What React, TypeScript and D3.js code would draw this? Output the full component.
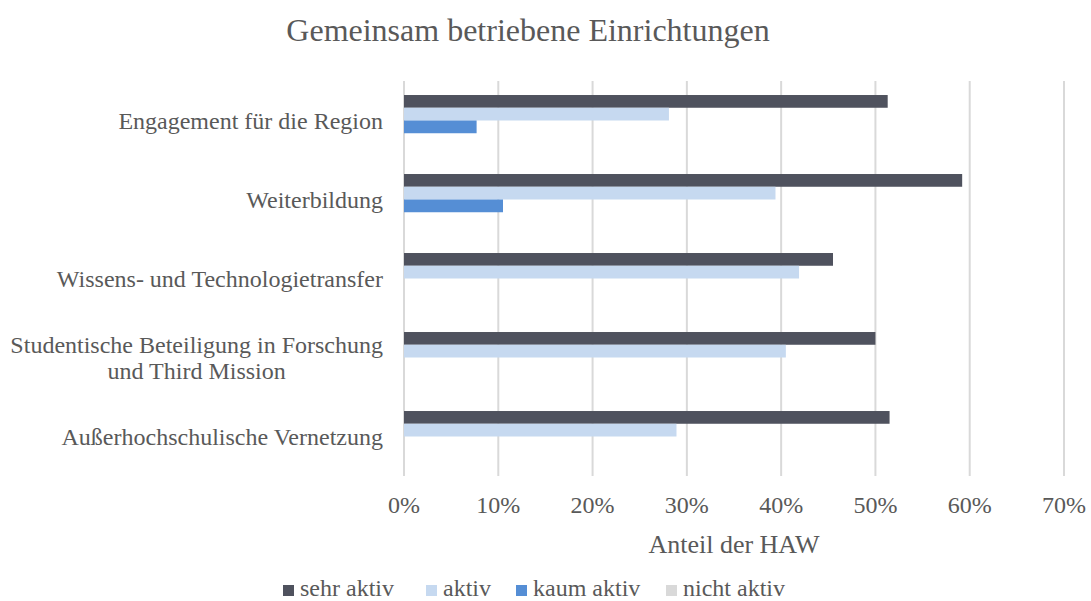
import { useEffect, useRef } from 'react';
import * as d3 from 'd3';

const categories = [
  'Engagement für die Region',
  'Weiterbildung',
  'Wissens- und Technologietransfer',
  'Studentische Beteiligung in Forschung|und Third Mission',
  'Außerhochschulische Vernetzung',
];
const seriesNames = ['sehr aktiv', 'aktiv', 'kaum aktiv', 'nicht aktiv'];
const sehrAktiv = [51.3, 59.2, 45.5, 50.0, 51.5];
const aktiv = [28.1, 39.4, 41.9, 40.5, 28.9];
const kaumAktiv = [7.7, 10.5, 0, 0, 0];
const nichtAktiv = [0, 0, 0, 0, 0];
const xTicks = [0, 10, 20, 30, 40, 50, 60, 70];

const COLORS = ['#4F525E', '#C6D9F0', '#558ED5', '#D9D9D9'];
const TEXT = '#595959';
const FONT = 'Liberation Serif, DejaVu Serif, serif';

const W = 1091;
const H = 601;
const plot = { left: 404, right: 1064, top: 81, bottom: 476 };

export default function App() {
  const ref = useRef<SVGSVGElement>(null);

  useEffect(() => {
    const root = d3.select(ref.current);
    root.selectAll('*').remove();
    const svg = root.append('g').attr('font-family', FONT);
    const values = [sehrAktiv, aktiv, kaumAktiv, nichtAktiv];

    const x = d3.scaleLinear().domain([0, 70]).range([plot.left, plot.right]);
    const y = d3.scaleBand<string>().domain(categories).range([plot.top, plot.bottom]).padding(0);
    const inner = d3
      .scaleBand<string>()
      .domain(seriesNames)
      .range([0, y.bandwidth()])
      .paddingInner(0)
      .paddingOuter(1.1);

    // title
    svg
      .append('text')
      .attr('x', 528)
      .attr('y', 41)
      .attr('text-anchor', 'middle')
      .attr('font-size', 32)
      .attr('fill', TEXT)
      .text('Gemeinsam betriebene Einrichtungen');

    // gridlines
    svg
      .append('g')
      .selectAll('line')
      .data(xTicks)
      .enter()
      .append('line')
      .attr('x1', (d) => x(d))
      .attr('x2', (d) => x(d))
      .attr('y1', plot.top)
      .attr('y2', plot.bottom)
      .attr('stroke', '#D9D9D9')
      .attr('stroke-width', 2);

    // bars
    seriesNames.forEach((s, si) => {
      svg
        .append('g')
        .selectAll('rect')
        .data(values[si])
        .enter()
        .append('rect')
        .attr('x', x(0))
        .attr('y', (_d, i) => (y(categories[i]) ?? 0) + (inner(s) ?? 0))
        .attr('width', (d) => x(d) - x(0))
        .attr('height', inner.bandwidth())
        .attr('fill', COLORS[si]);
    });

    // category labels (wrapped label: second line centred under the first)
    categories.forEach((c) => {
      const lines = c.split('|');
      const cy = (y(c) ?? 0) + y.bandwidth() / 2;
      const lh = 26;
      const t = svg
        .append('text')
        .attr('font-size', 24)
        .attr('fill', TEXT)
        .attr('text-anchor', 'end');
      if (lines.length === 1) {
        t.attr('x', 383).attr('y', cy + 8).text(c);
      } else {
        const first = t.attr('x', 383).attr('y', cy + 8 - lh / 2).text(lines[0]);
        const w = (first.node() as SVGTextElement).getComputedTextLength();
        svg
          .append('text')
          .attr('font-size', 24)
          .attr('fill', TEXT)
          .attr('text-anchor', 'middle')
          .attr('x', 383 - w / 2)
          .attr('y', cy + 8 + lh / 2)
          .text(lines[1]);
      }
    });

    // x tick labels
    svg
      .append('g')
      .selectAll('text')
      .data(xTicks)
      .enter()
      .append('text')
      .attr('x', (d) => x(d))
      .attr('y', 513)
      .attr('text-anchor', 'middle')
      .attr('font-size', 24)
      .attr('fill', TEXT)
      .text((d) => `${d}%`);

    // axis title
    svg
      .append('text')
      .attr('x', (plot.left + plot.right) / 2)
      .attr('y', 553)
      .attr('text-anchor', 'middle')
      .attr('font-size', 26)
      .attr('fill', TEXT)
      .text('Anteil der HAW');

    // legend
    const legendX = [283, 426, 516, 666];
    seriesNames.forEach((s, i) => {
      const g = svg.append('g').attr('transform', `translate(${legendX[i]},0)`);
      g.append('rect').attr('x', 0).attr('y', 585).attr('width', 11).attr('height', 11).attr('fill', COLORS[i]);
      g.append('text')
        .attr('x', 17)
        .attr('y', 596)
        .attr('font-size', 24)
        .attr('fill', TEXT)
        .text(s);
    });
  }, []);

  return (
    <svg
      ref={ref}
      width={W}
      height={H}
      viewBox={`0 0 ${W} ${H}`}
      style={{ position: 'absolute', left: 0, top: 0, background: '#fff' }}
    />
  );
}
